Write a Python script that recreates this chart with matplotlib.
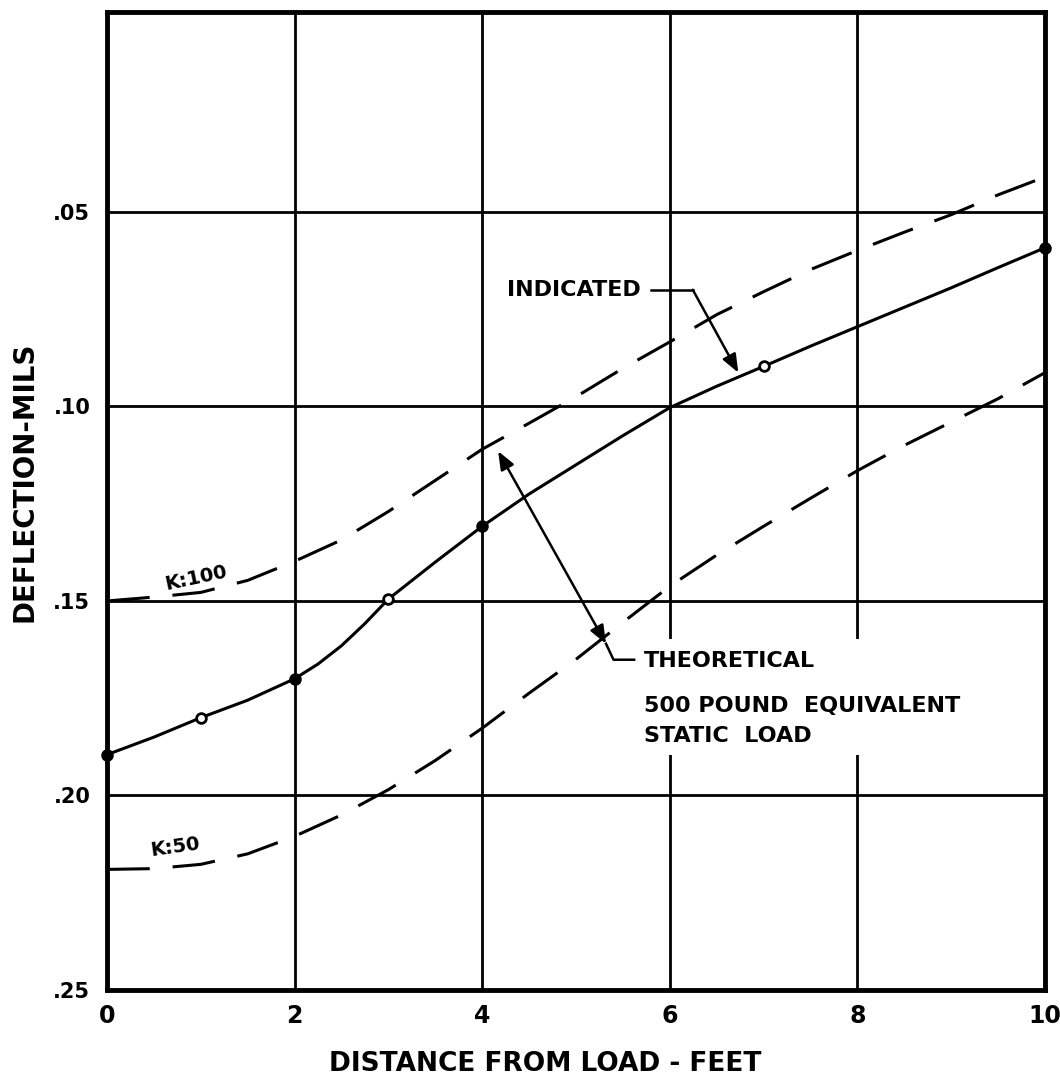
import matplotlib.pyplot as plt
from matplotlib.patches import FancyArrowPatch, Rectangle

# measured deflections (indicated)
dist_meas = [0, 1, 2, 3, 4, 7, 10]
defl_meas = [0.1895, 0.180, 0.170, 0.1495, 0.1308, 0.0897, 0.0592]
open_pts = [False, True, False, True, False, True, False]

# faired curve through the measured points
dist_curve = [0, 0.5, 1, 1.5, 2, 2.25, 2.5, 2.75, 3, 3.5, 4, 4.5, 5, 5.5, 6, 6.5, 7, 7.5, 8, 8.5, 9, 9.5, 10]
defl_curve = [0.1895, 0.185, 0.180, 0.1755, 0.170, 0.1662, 0.1615, 0.1558, 0.1495, 0.140, 0.1308,
              0.1225, 0.1150, 0.1075, 0.1003, 0.0948, 0.0897, 0.0845, 0.0795, 0.0745, 0.0695, 0.0643, 0.0592]

# theoretical curves, 500 lb equivalent static load
dist_theo = [0, 0.5, 1, 1.5, 2, 2.5, 3, 3.5, 4, 4.5, 5, 5.5, 6, 6.5, 7, 7.5, 8, 8.5, 9, 9.5, 10]
defl_k100 = [0.150, 0.149, 0.1478, 0.1447, 0.1398, 0.1343, 0.127, 0.119, 0.111, 0.1043, 0.0975,
             0.0902, 0.0834, 0.0764, 0.0705, 0.0648, 0.0599, 0.0552, 0.0507, 0.0456, 0.041]
defl_k50 = [0.219, 0.2188, 0.2177, 0.215, 0.2105, 0.205, 0.1985, 0.191, 0.1827, 0.1737, 0.165,
            0.1555, 0.1462, 0.1382, 0.1308, 0.1236, 0.1165, 0.110, 0.104, 0.098, 0.0913]

x_ticks = [0, 2, 4, 6, 8, 10]
y_ticks = [0.05, 0.10, 0.15, 0.20, 0.25]
y_ticklabels = ['.05', '.10', '.15', '.20', '.25']

plt.rcParams['font.family'] = ['DejaVu Sans']
plt.rcParams['font.weight'] = 'bold'

fig = plt.figure(figsize=(10.6, 10.78), dpi=100)
ax = fig.add_axes([107 / 1060, 1 - 990 / 1078, 938 / 1060, 978 / 1078])

ax.set_xlim(0, 10)
ax.set_ylim(0.25, -0.0014)
ax.set_xticks(x_ticks)
ax.set_xticklabels([str(v) for v in x_ticks], fontsize=17, fontweight='bold')
ax.set_yticks(y_ticks)
ax.set_yticklabels(y_ticklabels, fontsize=15, fontweight='bold')
ax.tick_params(length=0, pad=12)
ax.tick_params(axis='x', pad=10)
ax.grid(True, color='black', lw=2.0)
ax.set_axisbelow(True)
for s in ax.spines.values():
    s.set_linewidth(3.5)

ax.set_ylabel('DEFLECTION-MILS', fontsize=20, fontweight='bold')
ax.yaxis.set_label_coords(-0.073, 0.52)
ax.set_xlabel('DISTANCE FROM LOAD - FEET', fontsize=19, fontweight='bold')
ax.xaxis.set_label_coords(0.467, -0.062)

# theoretical (dashed)
ax.plot(dist_theo, defl_k100, color='black', lw=2.2, dashes=(14, 7.5), zorder=3)
ax.plot(dist_theo, defl_k50, color='black', lw=2.2, dashes=(14, 7.5), zorder=3)

# indicated (solid with points)
ax.plot(dist_curve, defl_curve, color='black', lw=2.2, zorder=3)
for x, y, o in zip(dist_meas, defl_meas, open_pts):
    ax.plot(x, y, 'o', ms=7, mec='black', mew=2,
            mfc='white' if o else 'black', zorder=4, clip_on=False)

ax.text(0.95, 0.1440, 'K:100', fontsize=14, rotation=12, ha='center', va='center', zorder=5)
ax.text(0.73, 0.2132, 'K:50', fontsize=14, rotation=8, ha='center', va='center', zorder=5)

arrow_kw = dict(mutation_scale=20, lw=1.8, color='black', shrinkA=0, shrinkB=0, zorder=5)

# INDICATED leader
ax.text(5.69, 0.0700, 'INDICATED', fontsize=16, ha='right', va='center')
ax.plot([5.80, 6.245], [0.0700, 0.0700], color='black', lw=1.8, zorder=3)
ax.add_patch(FancyArrowPatch((6.245, 0.0700), (6.73, 0.0913),
                             arrowstyle='-|>,head_length=0.55,head_width=0.22', **arrow_kw))

# THEORETICAL leader with double arrow between the two dashed curves
ax.add_patch(Rectangle((5.62, 0.1597), 4.0, 0.030, facecolor='white',
                       edgecolor='none', zorder=1))
ax.add_patch(FancyArrowPatch((5.32, 0.161), (4.17, 0.1115),
                             arrowstyle='<|-|>,head_length=0.55,head_width=0.22', **arrow_kw))
ax.plot([5.32, 5.40, 5.62], [0.161, 0.1651, 0.1651], color='black', lw=1.8, zorder=3)
ax.text(5.72, 0.1654, 'THEORETICAL', fontsize=16, ha='left', va='center', zorder=5)
ax.text(5.72, 0.1769, '500 POUND  EQUIVALENT', fontsize=16, ha='left', va='center', zorder=5)
ax.text(5.72, 0.1846, 'STATIC  LOAD', fontsize=16, ha='left', va='center', zorder=5)

fig.savefig('out.png', dpi=100, facecolor='white')
